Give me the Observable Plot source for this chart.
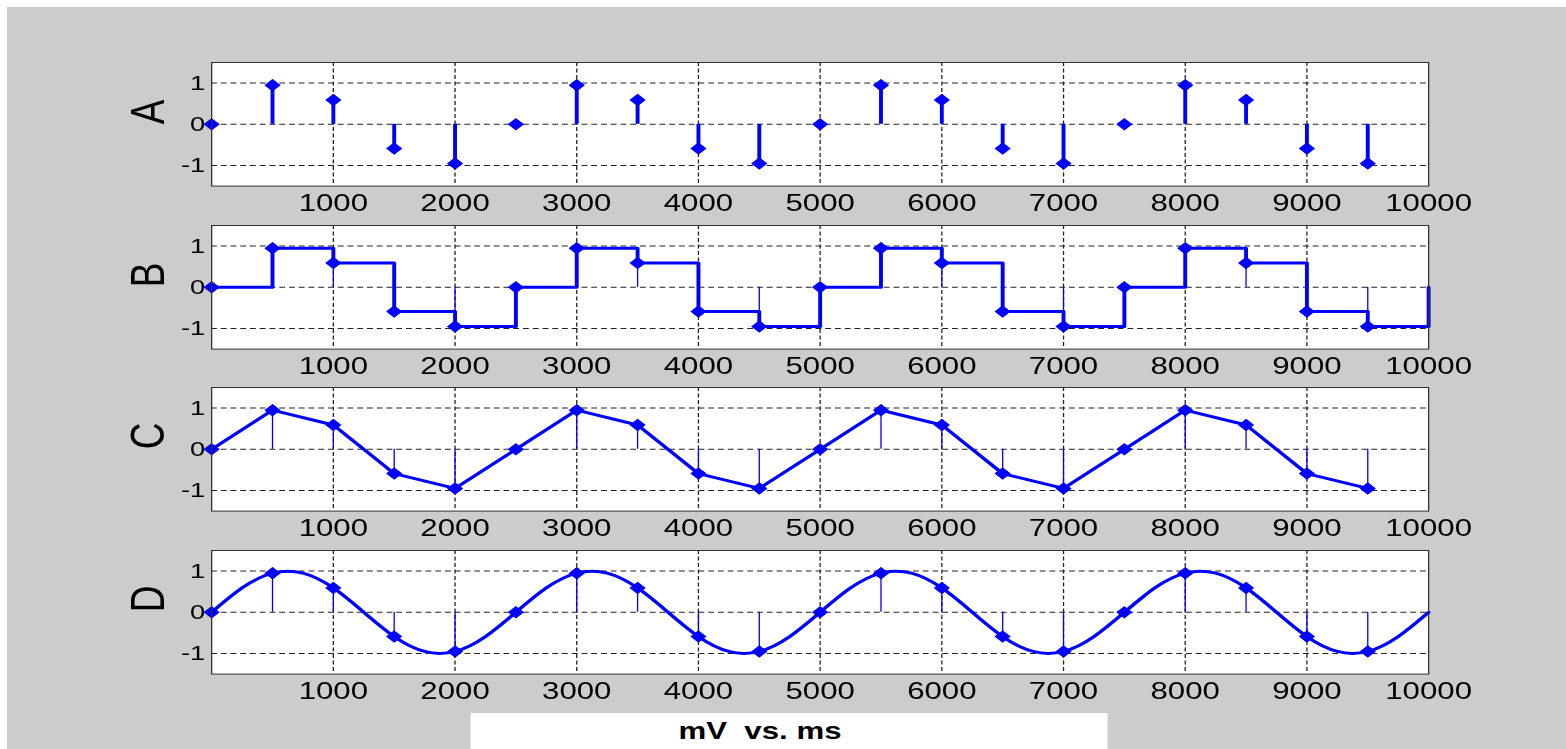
<!DOCTYPE html>
<html>
<head>
<meta charset="utf-8">
<script src="https://cdn.jsdelivr.net/npm/d3@7"></script>
<script src="https://cdn.jsdelivr.net/npm/@observablehq/plot@0.6"></script>
<style>
  html, body { margin: 0; padding: 0; background: #ffffff; width: 1566px; height: 749px; overflow: hidden; }
  #bg { position: absolute; left: 7px; top: 7px; right: 0; bottom: 0; background: #cccccc; }
  #stage { position: absolute; left: 0; top: 0; width: 1204.6px; height: 749px; transform: scaleX(1.3); transform-origin: 0 0; font-family: "Liberation Sans", Arial, sans-serif; }
  .panel { position: absolute; left: 0; }
  #titlebox { position: absolute; left: 361.5px; top: 713px; width: 490.8px; height: 36px; background: #ffffff; }
  #title { position: absolute; left: 484.6px; width: 200px; top: 717px; text-align: center; font-weight: bold; font-size: 24px; color: #000; }
</style>
</head>
<body>
<div id="bg"></div>
<div id="stage">
  <div id="titlebox"></div>
  <div id="title">mV&nbsp; vs. ms</div>
</div>
<script>
// ---- data ----
const sampleTimes = [0, 500, 1000, 1500, 2000, 2500, 3000, 3500, 4000, 4500,
                     5000, 5500, 6000, 6500, 7000, 7500, 8000, 8500, 9000, 9500];
const sampleValues = [0, 0.95, 0.59, -0.59, -0.95, 0, 0.95, 0.59, -0.59, -0.95,
                      0, 0.95, 0.59, -0.59, -0.95, 0, 0.95, 0.59, -0.59, -0.95];
// stairs end at 10000 going back to 0
const stairTimes = [...sampleTimes, 10000];
const stairValues = [...sampleValues, 0];
// continuous curve of panel D, read at 250 ms steps
const curveTimes = [0, 250, 500, 750, 1000, 1250, 1500, 1750, 2000, 2250,
                    2500, 2750, 3000, 3250, 3500, 3750, 4000, 4250, 4500, 4750,
                    5000, 5250, 5500, 5750, 6000, 6250, 6500, 6750, 7000, 7250,
                    7500, 7750, 8000, 8250, 8500, 8750, 9000, 9250, 9500, 9750, 10000];
const curveValues = [0, 0.59, 0.95, 0.95, 0.59, 0, -0.59, -0.95, -0.95, -0.59,
                     0, 0.59, 0.95, 0.95, 0.59, 0, -0.59, -0.95, -0.95, -0.59,
                     0, 0.59, 0.95, 0.95, 0.59, 0, -0.59, -0.95, -0.95, -0.59,
                     0, 0.59, 0.95, 0.95, 0.59, 0, -0.59, -0.95, -0.95, -0.59, 0];
const panelLabels = ["A", "B", "C", "D"];
const xTicks = [1000, 2000, 3000, 4000, 5000, 6000, 7000, 8000, 9000, 10000];
const yTicks = [-1, 0, 1];
const xTitle = "mV  vs. ms";

const samples = sampleTimes.map((t, i) => ({t, v: sampleValues[i]}));
const stairs = stairTimes.map((t, i) => ({t, v: stairValues[i]}));
const curve = curveTimes.map((t, i) => ({t, v: curveValues[i]}));

const BLUE = "#0000ff";
const W = 1566 / 1.3;
const ML = 211 / 1.3;
const MR = W - 1428 / 1.3;
const MT = 12, PH = 123.6, MB = 40;
const H = MT + PH + MB;

function stemsThin() {
  return Plot.ruleX(samples, {x: "t", y1: 0, y2: "v", stroke: BLUE, strokeWidth: 1});
}
function markers() {
  return Plot.dot(samples, {x: "t", y: "v", symbol: "diamond2", r: 5, fill: BLUE, stroke: BLUE, strokeWidth: 1});
}

const panelMarks = [
  [Plot.ruleX(samples, {x: "t", y1: 0, y2: "v", stroke: BLUE, strokeWidth: 3}), markers()],
  [stemsThin(), Plot.line(stairs, {x: "t", y: "v", curve: "step-after", stroke: BLUE, strokeWidth: 3}), markers()],
  [stemsThin(), Plot.line(samples, {x: "t", y: "v", stroke: BLUE, strokeWidth: 3}), markers()],
  [stemsThin(), Plot.line(curve, {x: "t", y: "v", curve: "natural", stroke: BLUE, strokeWidth: 3}), markers()]
];

const stage = document.getElementById("stage");
panelLabels.forEach((lab, i) => {
  const gridH = {stroke: "#222", strokeOpacity: 1, strokeWidth: 1, strokeDasharray: "4.5,3"};
  const gridV = {stroke: "#222", strokeOpacity: 1, strokeWidth: 1, strokeDasharray: "4,2.5"};
  const chart = Plot.plot({
    width: W, height: H,
    marginLeft: ML, marginRight: MR, marginTop: MT, marginBottom: MB,
    style: {background: "transparent", fontFamily: "Liberation Sans, Arial, sans-serif", color: "#000", overflow: "visible"},
    x: {domain: [0, 10000]},
    y: {domain: [-1.5, 1.5]},
    marks: [
      Plot.frame({fill: "white", stroke: null}),
      Plot.gridX(xTicks.filter(d => d < 10000), gridV),
      Plot.gridY(yTicks, gridH),
      ...panelMarks[i],
      Plot.frame({stroke: "#333", strokeWidth: 1}),
      Plot.axisX(xTicks, {tickSize: 0, tickPadding: 8, fontSize: 24, tickFormat: d => String(d), label: null}),
      Plot.axisY(yTicks, {tickSize: 0, tickPadding: 5, fontSize: 21, tickFormat: d => String(d), label: null}),
      Plot.text([lab], {frameAnchor: "left", text: d => d, rotate: -90, dx: -48.8, fontSize: 37, fill: "#000"})
    ]
  });
  chart.classList.add("panel");
  chart.style.top = (62.3 + 162.4 * i - MT) + "px";
  stage.appendChild(chart);
});
document.getElementById("title").textContent = xTitle.replace("  ", "\u00a0 ");
</script>
</body>
</html>
